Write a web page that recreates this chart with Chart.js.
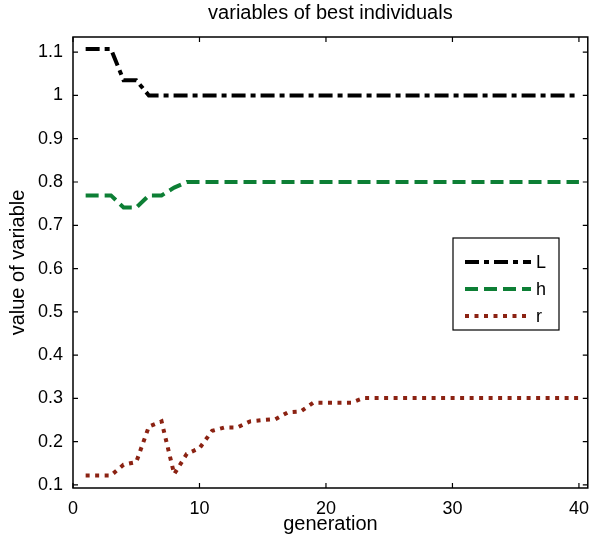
<!DOCTYPE html>
<html>
<head>
<meta charset="utf-8">
<script src="https://cdn.jsdelivr.net/npm/chart.js@4"></script>
<style>
  html, body { margin: 0; padding: 0; background: #fff; overflow: hidden; }
  #wrap { width: 591px; height: 550px; }
</style>
</head>
<body>
<div id="wrap"><canvas id="chart"></canvas></div>
<script>
const generations = [1, 2, 3, 4, 5, 6, 7, 8, 9, 10, 11, 12, 13, 14, 15, 16, 17, 18, 19, 20,
  21, 22, 23, 24, 25, 26, 27, 28, 29, 30, 31, 32, 33, 34, 35, 36, 37, 38, 39, 40];

const valuesL = [1.107, 1.107, 1.107, 1.035, 1.035, 1.0, 1.0, 1.0, 1.0, 1.0,
  1.0, 1.0, 1.0, 1.0, 1.0, 1.0, 1.0, 1.0, 1.0, 1.0,
  1.0, 1.0, 1.0, 1.0, 1.0, 1.0, 1.0, 1.0, 1.0, 1.0,
  1.0, 1.0, 1.0, 1.0, 1.0, 1.0, 1.0, 1.0, 1.0, 1.0];

const valuesH = [0.769, 0.769, 0.769, 0.741, 0.741, 0.769, 0.769, 0.787, 0.8, 0.8,
  0.8, 0.8, 0.8, 0.8, 0.8, 0.8, 0.8, 0.8, 0.8, 0.8,
  0.8, 0.8, 0.8, 0.8, 0.8, 0.8, 0.8, 0.8, 0.8, 0.8,
  0.8, 0.8, 0.8, 0.8, 0.8, 0.8, 0.8, 0.8, 0.8, 0.8];

const valuesR = [0.122, 0.122, 0.122, 0.147, 0.153, 0.235, 0.247, 0.125, 0.172, 0.185,
  0.225, 0.233, 0.233, 0.247, 0.25, 0.252, 0.268, 0.27, 0.29, 0.29,
  0.29, 0.29, 0.301, 0.301, 0.301, 0.301, 0.301, 0.301, 0.301, 0.301,
  0.301, 0.301, 0.301, 0.301, 0.301, 0.301, 0.301, 0.301, 0.301, 0.301];

const xTicks = [0, 10, 20, 30, 40];
const yTicks = [0.1, 0.2, 0.3, 0.4, 0.5, 0.6, 0.7, 0.8, 0.9, 1.0, 1.1];

const FONT = "'Liberation Sans', Arial, sans-serif";

function toPoints(values) {
  return values.map((v, i) => ({ x: generations[i], y: v }));
}

// matlab style box with inward ticks
const boxPlugin = {
  id: "box",
  afterDraw(chart) {
    const { ctx, chartArea: a, scales } = chart;
    ctx.save();
    ctx.strokeStyle = "#000";
    ctx.lineWidth = 1.5;
    ctx.strokeRect(a.left, a.top, a.right - a.left, a.bottom - a.top);
    ctx.lineWidth = 1.2;
    ctx.beginPath();
    xTicks.forEach(t => {
      const px = scales.x.getPixelForValue(t);
      ctx.moveTo(px, a.bottom); ctx.lineTo(px, a.bottom - 5);
      ctx.moveTo(px, a.top); ctx.lineTo(px, a.top + 5);
    });
    yTicks.forEach(t => {
      const py = scales.y.getPixelForValue(t);
      ctx.moveTo(a.left, py); ctx.lineTo(a.left + 5, py);
      ctx.moveTo(a.right, py); ctx.lineTo(a.right - 5, py);
    });
    ctx.stroke();
    ctx.restore();
  }
};

// legend box inside the plot
const legendPlugin = {
  id: "innerLegend",
  afterDatasetsDraw(chart) {
    const { ctx } = chart;
    const x0 = 453, y0 = 238, w = 106, h = 92;
    ctx.save();
    ctx.fillStyle = "#fff";
    ctx.fillRect(x0, y0, w, h);
    ctx.strokeStyle = "#000";
    ctx.lineWidth = 1.2;
    ctx.strokeRect(x0, y0, w, h);
    chart.data.datasets.forEach((ds, i) => {
      const y = y0 + 24 + i * 27;
      ctx.beginPath();
      ctx.strokeStyle = ds.borderColor;
      ctx.lineWidth = ds.borderWidth;
      ctx.setLineDash(ds.borderDash);
      ctx.moveTo(x0 + 12, y);
      ctx.lineTo(x0 + 78, y);
      ctx.stroke();
      ctx.setLineDash([]);
      ctx.fillStyle = "#000";
      ctx.font = "18px " + FONT;
      ctx.textBaseline = "middle";
      ctx.fillText(ds.label, x0 + 83, y + 1);
    });
    ctx.restore();
  }
};

new Chart(document.getElementById("chart"), {
  type: "line",
  data: {
    datasets: [
      {
        label: "L",
        data: toPoints(valuesL),
        borderColor: "#000000",
        borderWidth: 4,
        borderDash: [14, 5, 5, 5]
      },
      {
        label: "h",
        data: toPoints(valuesH),
        borderColor: "#0d7f35",
        borderWidth: 4,
        borderDash: [13, 6]
      },
      {
        label: "r",
        data: toPoints(valuesR),
        borderColor: "#8b2212",
        borderWidth: 4,
        borderDash: [4, 5.5]
      }
    ]
  },
  plugins: [boxPlugin, legendPlugin],
  options: {
    animation: false,
    responsive: true,
    maintainAspectRatio: false,
    layout: { padding: { left: 0, right: 1, top: 0, bottom: 0 } },
    elements: {
      point: { radius: 0 },
      line: { tension: 0, fill: false }
    },
    plugins: {
      legend: { display: false },
      tooltip: { enabled: false },
      title: {
        display: true,
        fullSize: false,
        text: "variables of best individuals",
        color: "#000",
        font: { family: FONT, size: 20, weight: "normal" },
        padding: { top: 1, bottom: 12 }
      }
    },
    scales: {
      x: {
        type: "linear",
        min: 0,
        max: 40.7,
        afterBuildTicks: s => { s.ticks = xTicks.map(v => ({ value: v })); },
        afterFit: s => { s.height = 62; },
        grid: { display: false },
        border: { display: false },
        ticks: {
          color: "#000",
          font: { family: FONT, size: 18 },
          padding: 2,
          maxRotation: 0
        },
        title: {
          display: true,
          text: "generation",
          color: "#000",
          font: { family: FONT, size: 20 },
          padding: { top: 0, bottom: 14 }
        }
      },
      y: {
        min: 0.093,
        max: 1.135,
        afterBuildTicks: s => { s.ticks = yTicks.map(v => ({ value: v })); },
        afterFit: s => { s.width = 73; },
        grid: { display: false },
        border: { display: false },
        ticks: {
          color: "#000",
          font: { family: FONT, size: 18 },
          padding: 2,
          callback: v => String(Number(v.toFixed(1)))
        },
        title: {
          display: true,
          text: "value of variable",
          color: "#000",
          font: { family: FONT, size: 20 },
          padding: { top: 6, bottom: 0 }
        }
      }
    }
  }
});
</script>
</body>
</html>
